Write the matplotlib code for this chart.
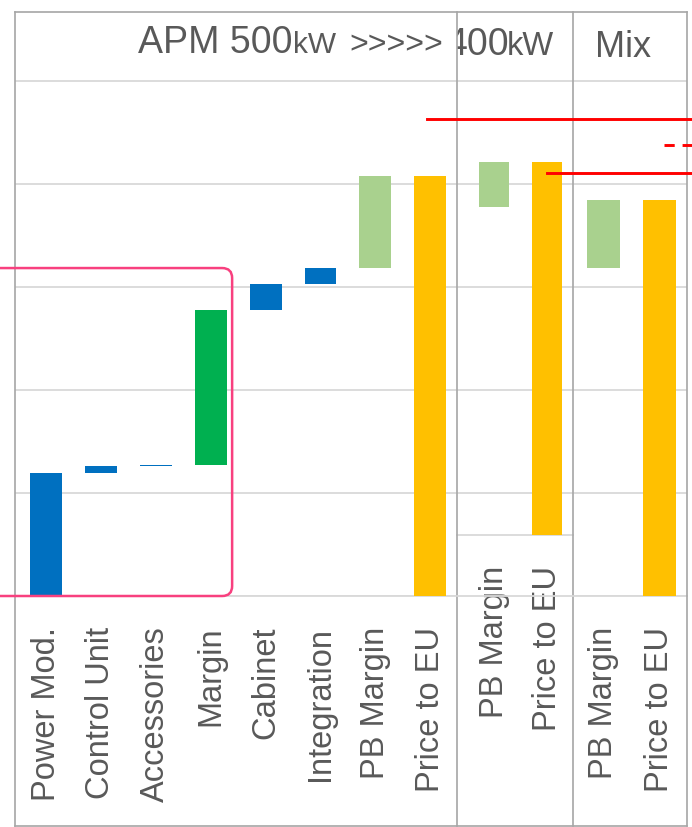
import numpy as np
import matplotlib
matplotlib.use('Agg')
import matplotlib.pyplot as plt
from matplotlib.lines import Line2D
from matplotlib.patches import FancyBboxPatch
from matplotlib.transforms import blended_transform_factory, IdentityTransform

plt.rcParams['font.family'] = ['Liberation Sans', 'DejaVu Sans']

# APM 500kW cost build-up (waterfall steps, last bar is the total)
apm500_labels = ['Power Mod.', 'Control Unit', 'Accessories', 'Margin',
                 'Cabinet', 'Integration', 'PB Margin', 'Price to EU']
apm500_steps = [119.4, 6.8, 1.0, 150.5, 25.2, 15.5, 89.4]
apm500_colors = ['#0070C0', '#0070C0', '#0070C0', '#00B050',
                 '#0070C0', '#0070C0', '#A9D18E']

# APM 400kW (only the last two steps are shown)
apm400_labels = ['PB Margin', 'Price to EU']
apm400_base = 378.0
apm400_steps = [43.6]

# Mix
mix_labels = ['PB Margin', 'Price to EU']
mix_base = 318.4
mix_steps = [66.1]

# red target levels
target_levels = [463.0, 437.6, 411.0]

TOTAL_COLOR = '#FFC000'
GRID = '#D9D9D9'
FRAME = '#A6A6A6'
TEXT = '#595959'
W, H = 692, 827

fig = plt.figure(figsize=(W / 100, H / 100), dpi=100)


def px_axes(left, top, right, bottom):
    return fig.add_axes([left / W, 1 - bottom / H, (right - left) / W, (bottom - top) / H])


def waterfall(ax, labels, base, steps, colors, xlim, ylim):
    x = np.arange(len(labels))
    bottoms = list(base + np.concatenate([[0], np.cumsum(steps)[:-1]]))
    total = base + sum(steps)
    heights = list(steps) + [total]
    ax.bar(x, heights, bottom=bottoms + [0], width=0.58,
           color=colors + [TOTAL_COLOR], zorder=3)
    ax.set_xticks(x)
    ax.set_xticklabels(labels, rotation=90, fontsize=23.5, color=TEXT,
                       va='top', ha='center')
    ax.tick_params(axis='x', length=0, pad=22)
    ax.set_yticks(np.arange(0, 600, 100))
    ax.tick_params(axis='y', left=False, labelleft=False)
    ax.yaxis.grid(True, color=GRID, lw=1.3)
    ax.set_axisbelow(True)
    for s in ['left', 'right', 'top']:
        ax.spines[s].set_visible(False)
    ax.spines['bottom'].set_color(GRID)
    ax.spines['bottom'].set_linewidth(1.3)
    ax.set_facecolor('none')
    ax.set_xlim(xlim)
    ax.set_ylim(ylim)


ax1 = px_axes(15, 12, 457, 596)
ax2 = px_axes(457, 12, 573, 535)
ax3 = px_axes(573, 12, 687, 596)

waterfall(ax1, apm500_labels, 0.0, apm500_steps, apm500_colors, (-0.565, 7.486), (0, 567))
waterfall(ax2, apm400_labels, apm400_base, apm400_steps, ['#A9D18E'], (-0.698, 1.49), (59.2, 567))
waterfall(ax3, mix_labels, mix_base, mix_steps, ['#A9D18E'], (-0.545, 1.49), (0, 567))

yblend = blended_transform_factory(fig.transFigure, ax1.transData)

# panel frames
for xp in [15, 457, 573, 687]:
    fig.add_artist(Line2D([xp / W, xp / W], [1 - 12 / H, 1 - 826 / H], color=FRAME, lw=1.2, zorder=1))
for yp in [12, 826]:
    fig.add_artist(Line2D([15 / W, 687 / W], [1 - yp / H, 1 - yp / H], color=FRAME, lw=1.2, zorder=1))
# zero line of the first panel running under the second one
fig.add_artist(Line2D([457 / W, 573 / W], [0, 0], transform=yblend, color=GRID, lw=1.3, zorder=1))

# titles
fig.text(138 / W, 1 - 53 / H, 'APM 500', fontsize=27, color=TEXT, va='baseline')
fig.text(293 / W, 1 - 53 / H, 'kW', fontsize=21.5, color=TEXT, va='baseline')
fig.text(349 / W, 1 - 53 / H, '>>>>>', fontsize=23, color=TEXT, va='baseline')
ax2.text(446 / W, 1 - 55 / H, '400', fontsize=27, color=TEXT, va='baseline',
         transform=fig.transFigure, clip_on=True)
ax2.text(507 / W, 1 - 55 / H, 'kW', fontsize=23.5, color=TEXT, va='baseline',
         transform=fig.transFigure, clip_on=True)
fig.text(595 / W, 1 - 57 / H, 'Mix', fontsize=26, color=TEXT, va='baseline')


def fig_x(ax, xd):
    xd_disp = ax.transData.transform((xd, 0))[0]
    return fig.transFigure.inverted().transform((xd_disp, 0))[0]


# red target lines
starts = [fig_x(ax1, 6.94), fig_x(ax3, 1.08), fig_x(ax2, 1.0)]
styles = ['-', (0, (3.5, 2.7)), '-']
for level, x0, ls in zip(target_levels, starts, styles):
    fig.add_artist(Line2D([x0, 1.0], [level, level], transform=yblend,
                          color='#FF0000', lw=2.1, ls=ls, zorder=5))

# highlight box around the module part
x_right = ax1.transData.transform((3.39, 0))[0]
y_bot = ax1.transData.transform((0, 0))[1]
y_top = ax1.transData.transform((0, 318.4))[1]
box = FancyBboxPatch((-30, y_bot), x_right + 30, y_top - y_bot,
                     boxstyle='round,pad=0,rounding_size=10',
                     transform=IdentityTransform(), fill=False,
                     edgecolor='#F8407F', lw=1.8, zorder=6)
fig.add_artist(box)

fig.savefig('out.png', dpi=100, facecolor='white')
